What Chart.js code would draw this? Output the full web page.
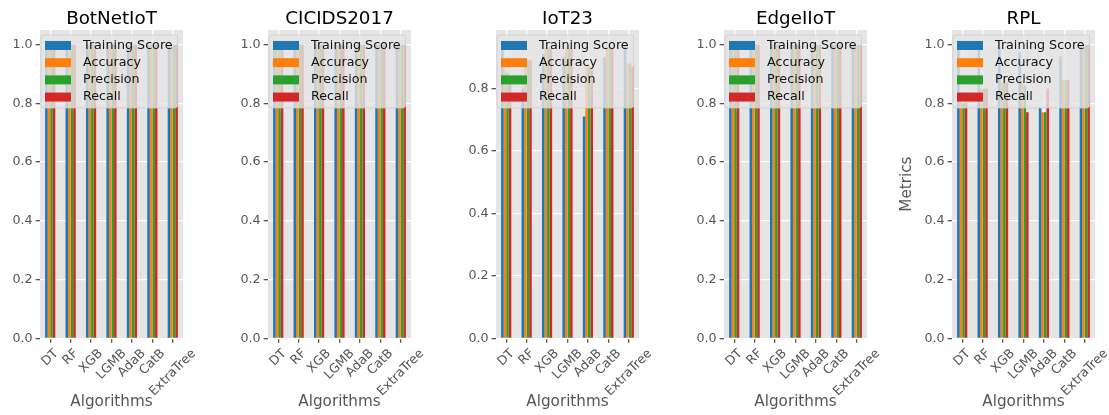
<!DOCTYPE html>
<html>
<head>
<meta charset="utf-8">
<script src="https://cdn.jsdelivr.net/npm/chart.js@4.4.0/dist/chart.umd.min.js"></script>
<style>
  html, body { margin: 0; padding: 0; background: #fff; overflow: hidden; }
  #fig { position: relative; width: 1109px; height: 415px; }
  #fig canvas { position: absolute; top: 0; }
</style>
</head>
<body>
<div id="fig"></div>
<script>
const algorithms = ['DT', 'RF', 'XGB', 'LGMB', 'AdaB', 'CatB', 'ExtraTree'];
const metricNames = ['Training Score', 'Accuracy', 'Precision', 'Recall'];
const metricColors = ['#1f77b4', '#ff7f0e', '#2ca02c', '#d62728'];
const yTickStep = 0.2;

// BotNetIoT
const botnetTraining  = [1.0, 1.0, 1.0, 1.0, 1.0, 1.0, 1.0];
const botnetAccuracy  = [1.0, 1.0, 1.0, 1.0, 1.0, 1.0, 1.0];
const botnetPrecision = [1.0, 1.0, 1.0, 1.0, 1.0, 1.0, 1.0];
const botnetRecall    = [1.0, 1.0, 1.0, 1.0, 1.0, 1.0, 1.0];

// CICIDS2017
const cicidsTraining  = [1.0, 1.0, 1.0, 1.0, 1.0, 1.0, 1.0];
const cicidsAccuracy  = [1.0, 1.0, 1.0, 1.0, 1.0, 1.0, 1.0];
const cicidsPrecision = [1.0, 1.0, 1.0, 1.0, 1.0, 1.0, 1.0];
const cicidsRecall    = [1.0, 1.0, 1.0, 1.0, 1.0, 1.0, 1.0];

// IoT23
const iot23Training  = [0.93, 0.80, 0.91, 0.90, 0.71, 0.90, 0.94];
const iot23Accuracy  = [0.86, 0.89, 0.93, 0.93, 0.87, 0.93, 0.88];
const iot23Precision = [0.85, 0.89, 0.93, 0.93, 0.87, 0.94, 0.88];
const iot23Recall    = [0.84, 0.89, 0.93, 0.93, 0.86, 0.93, 0.87];

// EdgeIIoT
const edgeTraining  = [1.0, 1.0, 1.0, 1.0, 1.0, 1.0, 1.0];
const edgeAccuracy  = [1.0, 1.0, 1.0, 1.0, 1.0, 1.0, 1.0];
const edgePrecision = [1.0, 1.0, 1.0, 1.0, 1.0, 1.0, 1.0];
const edgeRecall    = [1.0, 1.0, 1.0, 1.0, 1.0, 1.0, 1.0];

// RPL
const rplTraining  = [1.0, 1.0, 0.99, 0.975, 0.785, 0.96, 1.0];
const rplAccuracy  = [0.81, 0.85, 0.87, 0.87, 0.77, 0.88, 1.0];
const rplPrecision = [0.80, 0.85, 0.87, 0.86, 0.77, 0.88, 1.0];
const rplRecall    = [0.80, 0.85, 0.87, 0.77, 0.85, 0.88, 1.0];

const panels = [
    { title: 'BotNetIoT',  series: [botnetTraining, botnetAccuracy, botnetPrecision, botnetRecall] },
    { title: 'CICIDS2017', series: [cicidsTraining, cicidsAccuracy, cicidsPrecision, cicidsRecall] },
    { title: 'IoT23',      series: [iot23Training, iot23Accuracy, iot23Precision, iot23Recall] },
    { title: 'EdgeIIoT',   series: [edgeTraining, edgeAccuracy, edgePrecision, edgeRecall] },
    { title: 'RPL',        series: [rplTraining, rplAccuracy, rplPrecision, rplRecall], yLabel: 'Metrics' }
];

// subplot geometry
const plotLefts = [40, 268, 496, 724, 952];
const AXIS_W = 60, PLOT_W = 143, PAD_R = 30, H = 415, PLOT_BOTTOM = 338.3;
const FONT = '"DejaVu Sans", sans-serif';

// grey ggplot panel behind the grid
const plotBackground = {
    id: 'plotBackground',
    beforeDraw(chart) {
        const { ctx, chartArea: a } = chart;
        ctx.save();
        ctx.fillStyle = '#E5E5E5';
        ctx.fillRect(a.left, a.top, a.width, a.height);
        ctx.restore();
    }
};

// legend box in the upper left, semi transparent over the bars
const boxLegend = {
    id: 'boxLegend',
    afterDatasetsDraw(chart) {
        const { ctx, chartArea } = chart;
        const sets = chart.data.datasets;
        ctx.save();
        ctx.font = '12.7px ' + FONT;
        const textW = Math.max(...sets.map(d => ctx.measureText(d.label).width));
        const x = chartArea.left + 1, y = chartArea.top + 5;
        const w = 42 + textW + 5, h = 73, rowH = 17.2;
        ctx.beginPath();
        ctx.roundRect(x, y, w, h, 3);
        ctx.fillStyle = 'rgba(229,229,229,0.8)';
        ctx.fill();
        ctx.strokeStyle = 'rgba(204,204,204,0.8)';
        ctx.lineWidth = 1;
        ctx.stroke();
        ctx.textBaseline = 'middle';
        sets.forEach((d, k) => {
            const cy = y + 10.5 + k * rowH;
            ctx.fillStyle = d.backgroundColor;
            ctx.fillRect(x + 4, cy - 4.5, 26, 9);
            ctx.fillStyle = '#111';
            ctx.fillText(d.label, x + 42, cy);
        });
        ctx.restore();
    }
};

// x tick labels rotated 45 degrees, centred under their tick
const slantLabels = {
    id: 'slantLabels',
    afterDraw(chart) {
        const { ctx } = chart;
        const xs = chart.scales.x;
        ctx.save();
        ctx.font = '12.7px ' + FONT;
        ctx.fillStyle = '#555';
        ctx.textAlign = 'center';
        ctx.textBaseline = 'middle';
        chart.data.labels.forEach((lab, k) => {
            const w = ctx.measureText(lab).width;
            const boxH = (w + 12.7) * Math.SQRT1_2;
            const cx = xs.getPixelForTick(k);
            const cy = xs.top + 8.8 + boxH / 2;
            ctx.save();
            ctx.translate(cx, cy);
            ctx.rotate(-Math.PI / 4);
            ctx.fillText(lab, 0, 0);
            ctx.restore();
        });
        ctx.restore();
    }
};

const fig = document.getElementById('fig');

panels.forEach((p, i) => {
    const canvas = document.createElement('canvas');
    canvas.width = AXIS_W + PLOT_W + PAD_R;
    canvas.height = H;
    canvas.style.left = (plotLefts[i] - AXIS_W) + 'px';
    fig.appendChild(canvas);

    // matplotlib style 5% headroom above the tallest bar
    const yMax = Math.max(...p.series.flat()) * 1.05;

    new Chart(canvas, {
        type: 'bar',
        data: {
            labels: algorithms,
            datasets: p.series.map((vals, k) => ({
                label: metricNames[k],
                data: vals,
                backgroundColor: metricColors[k],
                borderWidth: 0,
                barPercentage: 1.0,
                categoryPercentage: 0.5
            }))
        },
        options: {
            responsive: false,
            animation: false,
            devicePixelRatio: 1,
            layout: { padding: { left: 0, right: PAD_R, top: 0, bottom: 0 } },
            plugins: {
                legend: { display: false },
                tooltip: { enabled: false },
                title: {
                    display: true,
                    text: p.title,
                    color: '#000',
                    fullSize: false,
                    font: { family: FONT, size: 18.3, weight: 'normal' },
                    padding: { top: 8, bottom: 0 }
                }
            },
            scales: {
                x: {
                    grid: { color: '#fff', lineWidth: 1.3, offset: false, tickColor: '#555', tickLength: 4.4 },
                    border: { display: false },
                    ticks: { display: false },
                    title: {
                        display: true,
                        text: 'Algorithms',
                        color: '#555',
                        font: { family: FONT, size: 15.2 },
                        padding: { top: 0, bottom: 4 }
                    },
                    afterFit(scale) { scale.height = H - PLOT_BOTTOM; }
                },
                y: {
                    min: 0,
                    max: yMax,
                    bounds: 'data',
                    grid: { color: '#fff', lineWidth: 1.3, tickColor: '#555', tickLength: 4.4 },
                    border: { display: false },
                    ticks: {
                        stepSize: yTickStep,
                        includeBounds: false,
                        color: '#555',
                        padding: 3,
                        font: { family: FONT, size: 12.7 },
                        callback: v => v.toFixed(1)
                    },
                    title: {
                        display: !!p.yLabel,
                        text: p.yLabel || '',
                        color: '#555',
                        font: { family: FONT, size: 15.2 },
                        padding: { top: 6, bottom: 0 }
                    },
                    afterFit(scale) { scale.width = AXIS_W; }
                }
            }
        },
        plugins: [plotBackground, boxLegend, slantLabels]
    });
});
</script>
</body>
</html>
